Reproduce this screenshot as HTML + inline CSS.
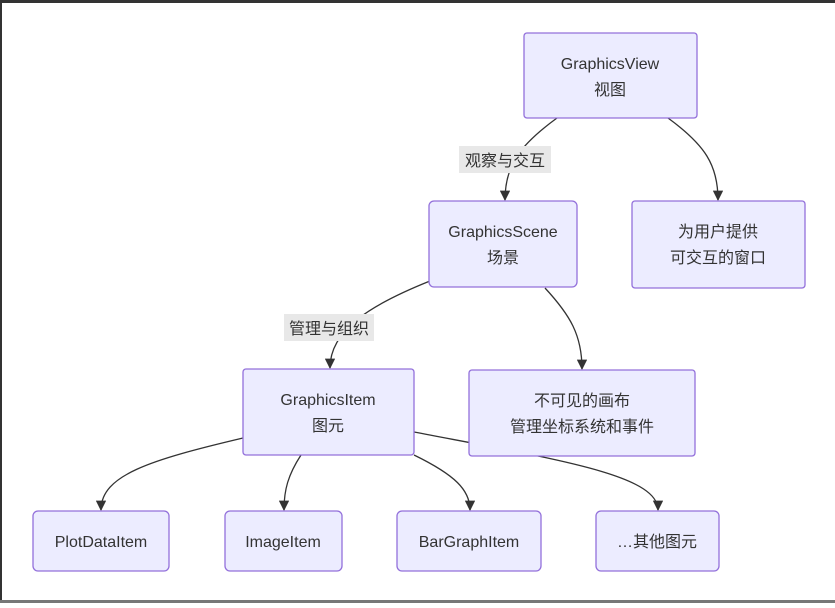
<!DOCTYPE html>
<html><head><meta charset="utf-8"><style>
html,body{margin:0;padding:0;background:#fff;}
body{width:835px;height:603px;overflow:hidden;position:relative;}
svg text{font-family:"Liberation Sans","Noto Sans CJK SC",sans-serif;font-size:16px;fill:#333;}
</style></head><body>
<svg width="835" height="603" viewBox="0 0 835 603" xmlns="http://www.w3.org/2000/svg">
<defs><marker id="a" viewBox="0 0 10 10" refX="9" refY="5" markerWidth="8" markerHeight="8" orient="auto"><path d="M0,0L10,5L0,10z" fill="#333"/></marker></defs>
<rect x="0" y="0" width="835" height="3" fill="#333"/>
<rect x="0" y="0" width="2" height="603" fill="#333"/>
<rect x="0" y="600" width="835" height="3" fill="#777"/>
<g fill="none" stroke="#333" stroke-width="1.3">
<path d="M557,118 C520,145 505,165 505,200" marker-end="url(#a)"/>
<path d="M668,118 C705,145 718,165 718,200" marker-end="url(#a)"/>
<path d="M430,281 C370,305 330,330 330,368" marker-end="url(#a)"/>
<path d="M545,288 C570,315 582,335 582,369" marker-end="url(#a)"/>
<path d="M243,438 C150,460 101,475 101,510" marker-end="url(#a)"/>
<path d="M301,455 C288,475 284,490 284,510" marker-end="url(#a)"/>
<path d="M414,455 C455,475 470,490 470,510" marker-end="url(#a)"/>
<path d="M414,432 C560,460 658,475 658,510" marker-end="url(#a)"/>
</g>
<rect x="459" y="146" width="92" height="27" fill="#e8e8e8"/>
<text x="505" y="166" text-anchor="middle">观察与交互</text>
<rect x="284" y="314" width="90" height="27" fill="#e8e8e8"/>
<text x="329" y="334" text-anchor="middle">管理与组织</text>
<g fill="#ECECFF" stroke="#9370DB" stroke-width="1.3">
<rect x="524" y="33" width="173" height="85" rx="3"/>
<rect x="632" y="201" width="173" height="87" rx="3"/>
<rect x="429" y="201" width="148" height="86" rx="5"/>
<rect x="469" y="370" width="226" height="86" rx="3"/>
<rect x="243" y="369" width="171" height="86" rx="3"/>
<rect x="33" y="511" width="136" height="60" rx="5"/>
<rect x="225" y="511" width="117" height="60" rx="5"/>
<rect x="397" y="511" width="144" height="60" rx="5"/>
<rect x="596" y="511" width="123" height="60" rx="5"/>
</g>
<g text-anchor="middle">
<text x="610" y="69">GraphicsView</text><text x="610" y="95">视图</text>
<text x="718" y="237">为用户提供</text><text x="718" y="263">可交互的窗口</text>
<text x="503" y="237">GraphicsScene</text><text x="503" y="263">场景</text>
<text x="582" y="406">不可见的画布</text><text x="582" y="432">管理坐标系统和事件</text>
<text x="328" y="405">GraphicsItem</text><text x="328" y="431">图元</text>
<text x="101" y="547">PlotDataItem</text>
<text x="283" y="547">ImageItem</text>
<text x="469" y="547">BarGraphItem</text>
<text x="657" y="547">…其他图元</text>
</g>
</svg>
</body></html>
